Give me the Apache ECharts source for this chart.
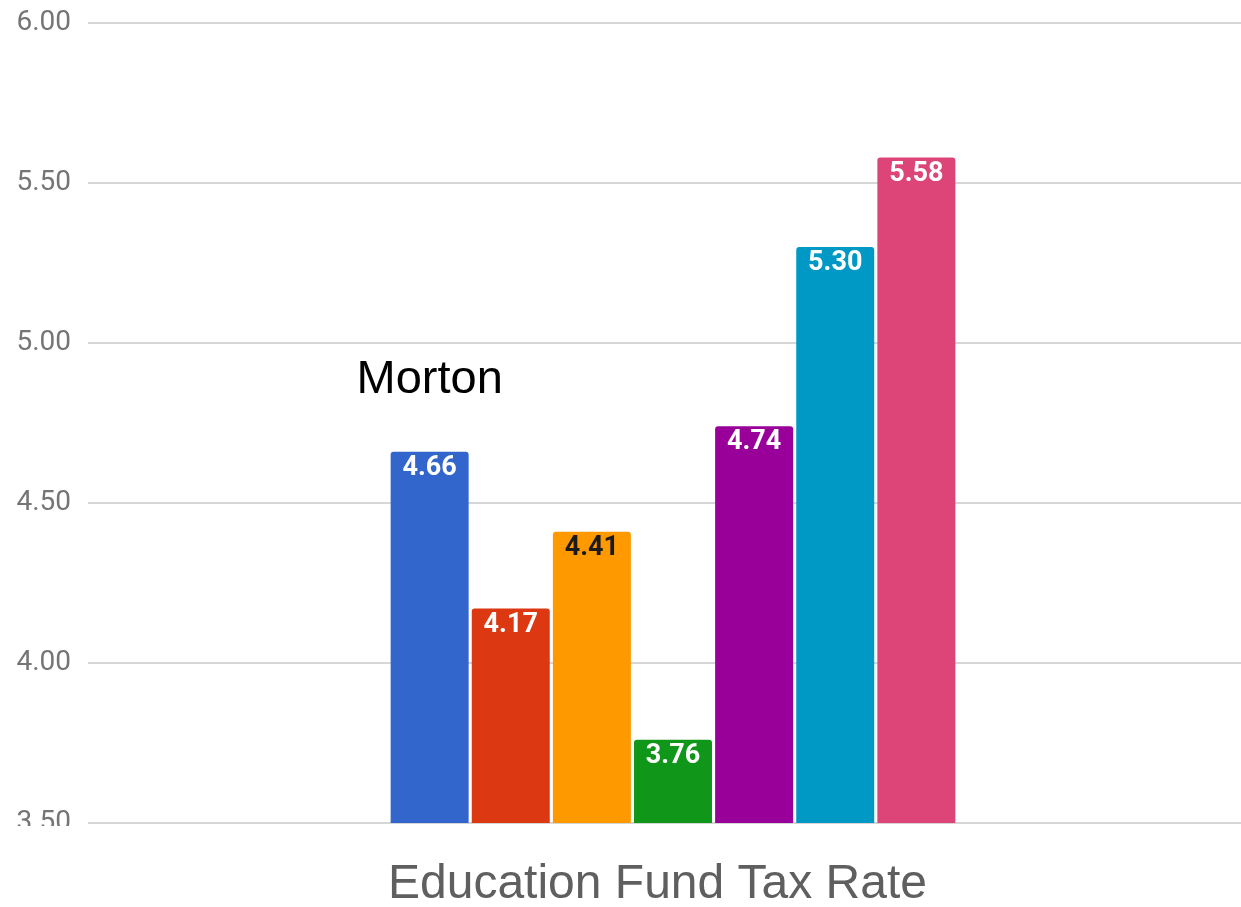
<!DOCTYPE html>
<html>
<head>
<meta charset="utf-8">
<style>
  html, body { margin: 0; padding: 0; background: #fff; }
  #chart { width: 1241px; height: 907px; }
</style>
<script src="https://cdn.jsdelivr.net/npm/echarts@6/dist/echarts.min.js"></script>
</head>
<body>
<div id="chart"></div>
<script>
// data
const categories = ["Education Fund Tax Rate"];
const seriesNames = ["Morton", "District 2", "District 3", "District 4", "District 5", "District 6", "District 7"];
const rates = [4.66, 4.17, 4.41, 3.76, 4.74, 5.30, 5.58];
const barColors = ["#3366cc", "#dc3912", "#ff9900", "#109618", "#990099", "#0099c6", "#dd4477"];
const labelColors = ["#fff", "#fff", "#1a1a1a", "#fff", "#fff", "#fff", "#fff"];

const chart = echarts.init(document.getElementById("chart"), null, { renderer: "canvas" });

const series = rates.map((v, i) => {
  const s = {
    name: seriesNames[i],
    type: "bar",
    data: [v],
    barWidth: 78,
    barGap: "4%",
    itemStyle: { color: barColors[i], borderRadius: [3, 3, 0, 0] },
    label: {
      show: true,
      position: "insideTop",
      distance: 3,
      formatter: (p) => p.value.toFixed(2),
      color: labelColors[i],
      fontFamily: "Roboto",
      fontWeight: "bold",
      fontSize: 27
    }
  };
  // Morton annotation above the first bar
  if (i === 0) {
    s.markPoint = {
      symbol: "circle",
      symbolSize: 0,
      data: [{
        coord: [0, v],
        label: {
          show: true,
          position: "top",
          distance: 48,
          formatter: seriesNames[0],
          color: "#000",
          fontFamily: "Liberation Sans",
          fontSize: 47
        }
      }]
    };
  }
  return s;
});

chart.setOption({
  animation: false,
  // plot runs a little past the right edge of the picture
  grid: { left: 88, top: 23, right: -17, bottom: 84, outerBoundsMode: "none", containLabel: false },
  xAxis: {
    type: "category",
    data: categories,
    axisLine: { show: false },
    axisTick: { show: false },
    axisLabel: { show: false }
  },
  yAxis: {
    type: "value",
    min: 3.5,
    max: 6,
    interval: 0.5,
    axisLine: { show: false },
    axisTick: { show: false },
    axisLabel: {
      formatter: (v) => v.toFixed(2),
      color: "#757575",
      fontFamily: "Roboto",
      fontSize: 28,
      margin: 17,
      padding: [6, 0, 0, 0]
    },
    splitLine: { lineStyle: { color: "#d6d6d6", width: 2 } }
  },
  series: series,
  graphic: [
    // the bottom of the picture cuts the lowest tick label
    { type: "rect", left: 0, top: 826, z: 100, shape: { width: 84, height: 30 }, style: { fill: "#fff" } },
    {
      type: "text",
      left: 388,
      top: 861,
      z: 100,
      style: {
        text: categories[0],
        fill: "#5f5f5f",
        font: "48px 'Liberation Sans'"
      }
    }
  ]
});
</script>
</body>
</html>
